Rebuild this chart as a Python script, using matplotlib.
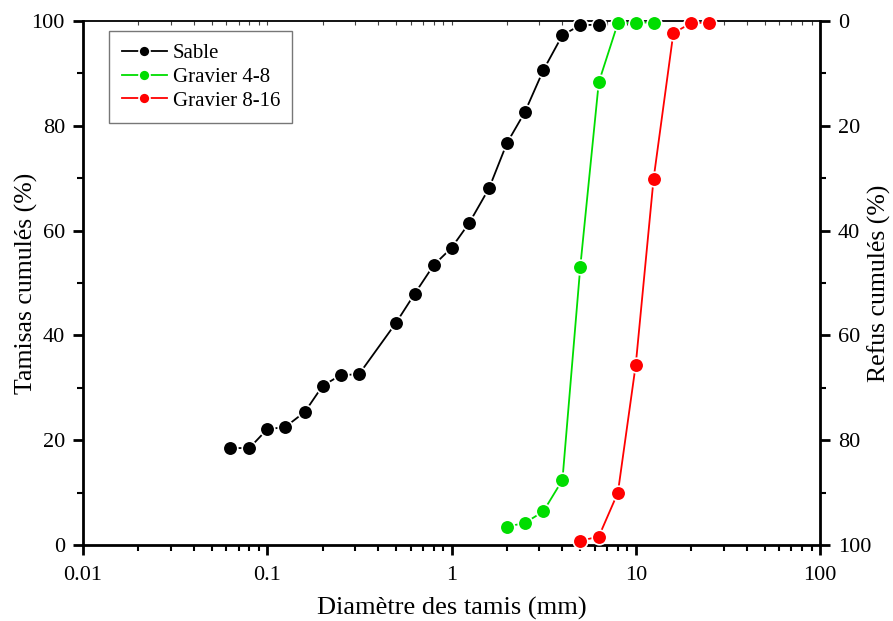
import matplotlib
matplotlib.use("Agg")
import matplotlib.pyplot as plt
from matplotlib.ticker import LogLocator, FixedLocator, NullFormatter, FixedFormatter

plt.rcParams['font.family'] = ['Liberation Serif', 'DejaVu Serif']

# Data
sable_d = [0.063, 0.08, 0.1, 0.125, 0.16, 0.2, 0.25, 0.315, 0.5, 0.63, 0.8, 1.0,
           1.25, 1.6, 2.0, 2.5, 3.15, 4.0, 5.0, 6.3]
sable_p = [18.5, 18.5, 22.1, 22.5, 25.4, 30.4, 32.4, 32.6, 42.4, 47.9, 53.4, 56.7,
           61.5, 68.1, 76.7, 82.6, 90.6, 97.3, 99.2, 99.3]
g48_d = [2.0, 2.5, 3.15, 4.0, 5.0, 6.3, 8.0, 10.0, 12.5]
g48_p = [3.5, 4.2, 6.4, 12.4, 53.1, 88.3, 99.6, 99.7, 99.7]
g816_d = [5.0, 6.3, 8.0, 10.0, 12.5, 16.0, 20.0, 25.0]
g816_p = [0.8, 1.6, 10.0, 34.4, 69.9, 97.7, 99.6, 99.7]

x_ticks = [0.01, 0.1, 1, 10, 100]
x_ticklabels = ["0.01", "0.1", "1", "10", "100"]
y_ticks = [0, 20, 40, 60, 80, 100]
y_right_ticks = [100, 80, 60, 40, 20, 0]
y_right_labels = ["100", "80", "60", "40", "20", "0"]

fig = plt.figure(figsize=(8.93, 6.21), dpi=100)
ax = fig.add_axes([83/893, 1-545/621, (820-83)/893, (545-21)/621])

series = [
    (sable_d, sable_p, "black", "Sable"),
    (g48_d, g48_p, "#00dd00", "Gravier 4-8"),
    (g816_d, g816_p, "#ff0000", "Gravier 8-16"),
]
for d, p, c, lab in series:
    ax.plot(d, p, color=c, lw=1.3, marker='o', markersize=10.5,
            markerfacecolor=c, markeredgecolor='white', markeredgewidth=1.2,
            label=lab, clip_on=False, zorder=3)

ax.set_xscale('log')
ax.set_xlim(0.01, 100)
ax.set_ylim(0, 100)
ax.xaxis.set_major_locator(FixedLocator(x_ticks))
ax.xaxis.set_major_formatter(FixedFormatter(x_ticklabels))
ax.xaxis.set_minor_locator(LogLocator(base=10, subs=range(2, 10), numticks=20))
ax.xaxis.set_minor_formatter(NullFormatter())
ax.yaxis.set_major_locator(FixedLocator(y_ticks))
ax.yaxis.set_minor_locator(FixedLocator([10, 30, 50, 70, 90]))

for s in ['left', 'bottom']:
    ax.spines[s].set_linewidth(2)
ax.spines['right'].set_visible(False)
ax.spines['top'].set_visible(False)

ax.tick_params(axis='both', which='major', direction='out', length=7, width=2,
               labelsize=16, pad=6)
ax.tick_params(axis='both', which='minor', direction='out', length=4, width=1.5)
ax.tick_params(axis='x', which='major', pad=8)

ax2 = ax.twinx()
ax2.set_ylim(100, 0)
ax2.yaxis.set_major_locator(FixedLocator(y_right_ticks))
ax2.yaxis.set_major_formatter(FixedFormatter(y_right_labels))
ax2.yaxis.set_minor_locator(FixedLocator([10, 30, 50, 70, 90]))
for s in ['left', 'bottom', 'top']:
    ax2.spines[s].set_visible(False)
ax2.spines['right'].set_linewidth(2)
ax2.tick_params(axis='y', which='major', direction='out', length=7, width=2, labelsize=16, pad=6)
ax2.tick_params(axis='y', which='minor', direction='out', length=4, width=1.5)

# top axis minor ticks (inward, thin)
axt = ax.secondary_xaxis('top')
axt.set_xscale('log')
axt.xaxis.set_major_locator(FixedLocator(x_ticks))
axt.xaxis.set_minor_locator(LogLocator(base=10, subs=range(2, 10), numticks=20))
axt.tick_params(axis='x', which='both', direction='in', length=3, width=0.8,
                labeltop=False, color='#444444')
axt.xaxis.set_major_formatter(NullFormatter())
axt.xaxis.set_minor_formatter(NullFormatter())
axt.spines['top'].set_linewidth(1.3)

ax.set_xlabel("Diamètre des tamis (mm)", fontsize=19, labelpad=9)
ax.set_ylabel("Tamisas cumulés (%)", fontsize=18.5)
ax.yaxis.set_label_coords(-0.061, 0.5)
ax2.set_ylabel("Refus cumulés (%)", fontsize=18.5)
ax2.yaxis.set_label_coords(1.064, 0.5)

leg = ax.legend(loc='upper left', bbox_to_anchor=(109/893, 1-31/621),
                bbox_transform=fig.transFigure, fontsize=15, frameon=True,
                fancybox=False, edgecolor='#555555', handlelength=2.2,
                borderpad=0.6, borderaxespad=0, labelspacing=0.2,
                handletextpad=0.25, markerscale=0.75)
leg.get_frame().set_linewidth(1.0)

fig.savefig("out.png", dpi=100)
